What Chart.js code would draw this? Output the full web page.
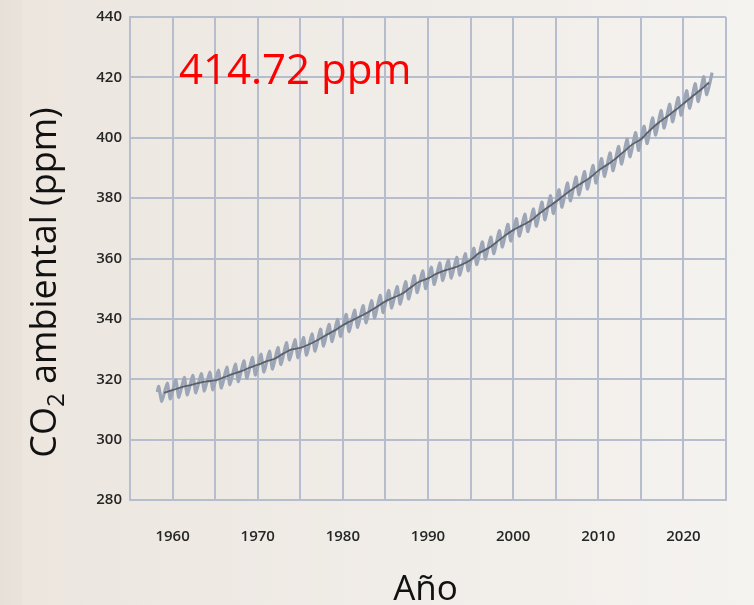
<!DOCTYPE html>
<html>
<head>
<meta charset="utf-8">
<script src="https://cdn.jsdelivr.net/npm/chart.js@4/dist/chart.umd.min.js"></script>
<style>
  html, body { margin: 0; padding: 0; width: 754px; height: 605px; overflow: hidden; }
  body {
    background: linear-gradient(to right, #e8e0d8 0px, #eae3db 22px, #ece6df 23px, #f0ece7 50%, #f5f3f0 100%);
  }
  canvas { display: block; }
</style>
</head>
<body>
<canvas id="co2" width="754" height="605"></canvas>
<script>
// Mauna Loa CO2 record: yearly seasonal maximum (May) and minimum (late September),
// plus the de-seasonalised trend sampled at the start of each year.
const startMarch1958 = 315.7;

const seasonYears = [
  1958, 1959, 1960, 1961, 1962, 1963, 1964, 1965, 1966, 1967,
  1968, 1969, 1970, 1971, 1972, 1973, 1974, 1975, 1976, 1977,
  1978, 1979, 1980, 1981, 1982, 1983, 1984, 1985, 1986, 1987,
  1988, 1989, 1990, 1991, 1992, 1993, 1994, 1995, 1996, 1997,
  1998, 1999, 2000, 2001, 2002, 2003, 2004, 2005, 2006, 2007,
  2008, 2009, 2010, 2011, 2012, 2013, 2014, 2015, 2016, 2017,
  2018, 2019, 2020, 2021, 2022, 2023
];

const mayPeak = [
  317.6, 318.7, 319.8, 320.6, 321.3, 321.9, 322.4, 323.0, 324.0, 325.0,
  326.1, 327.2, 328.3, 329.3, 330.5, 332.1, 333.1, 333.8, 335.0, 336.6,
  338.2, 339.8, 341.5, 342.9, 344.4, 346.0, 347.8, 349.4, 350.7, 352.3,
  354.3, 355.9, 357.1, 358.5, 359.5, 360.4, 361.6, 363.4, 365.5, 367.1,
  369.2, 371.3, 373.2, 374.7, 376.4, 378.7, 380.8, 382.8, 385.0, 387.0,
  388.8, 390.8, 393.1, 395.0, 397.1, 399.5, 401.7, 403.8, 406.6, 409.0,
  411.1, 413.3, 415.6, 417.9, 420.2, 421.6
];

const sepTrough = [
  312.7, 313.5, 314.0, 314.8, 315.5, 316.1, 316.5, 317.1, 318.2, 319.2,
  320.3, 321.4, 322.4, 323.4, 324.9, 326.4, 327.1, 328.0, 329.3, 331.0,
  332.5, 334.2, 335.8, 337.2, 338.7, 340.3, 342.1, 343.6, 344.9, 346.6,
  348.7, 350.0, 351.4, 352.7, 353.5, 354.5, 355.9, 358.0, 359.8, 361.6,
  363.8, 365.8, 367.4, 368.9, 370.7, 372.8, 374.9, 377.0, 379.1, 381.1,
  383.0, 385.0, 387.2, 389.1, 391.3, 393.7, 395.8, 398.1, 400.9, 403.2,
  405.3, 407.5, 409.8, 412.0, 414.3
];

const trendYears = [
  1959, 1960, 1961, 1962, 1963, 1964, 1965, 1966, 1967, 1968,
  1969, 1970, 1971, 1972, 1973, 1974, 1975, 1976, 1977, 1978,
  1979, 1980, 1981, 1982, 1983, 1984, 1985, 1986, 1987, 1988,
  1989, 1990, 1991, 1992, 1993, 1994, 1995, 1996, 1997, 1998,
  1999, 2000, 2001, 2002, 2003, 2004, 2005, 2006, 2007, 2008,
  2009, 2010, 2011, 2012, 2013, 2014, 2015, 2016, 2017, 2018,
  2019, 2020, 2021, 2022, 2023
];

const trendPpm = [
  315.5, 316.4, 317.3, 318.0, 318.7, 319.3, 319.6, 320.6, 321.7, 322.6,
  323.8, 324.8, 325.9, 326.8, 328.5, 329.9, 330.4, 331.5, 332.9, 334.6,
  336.1, 337.9, 339.4, 340.8, 342.3, 344.0, 345.8, 347.1, 348.4, 350.5,
  352.4, 353.4, 355.0, 356.1, 356.9, 358.0, 359.5, 361.8, 363.3, 365.3,
  367.5, 369.4, 370.9, 372.4, 374.7, 376.8, 378.8, 381.0, 383.0, 384.9,
  386.7, 389.1, 391.0, 393.0, 395.4, 397.8, 399.5, 402.3, 404.8, 406.9,
  409.0, 411.3, 413.6, 415.8, 418.3
];

const yTicks = [280, 300, 320, 340, 360, 380, 400, 420, 440];
const xLabelYears = [1960, 1970, 1980, 1990, 2000, 2010, 2020];

const currentReading = '414.72 ppm';
const yTitleMain = 'CO';
const yTitleSub = '2';
const yTitleRest = ' ambiental (ppm)';
const xTitle = 'Año';

// Month positions inside a year (decimal years)
const MAY = 0.37, LATE_SEP = 0.74, MARCH = 0.2;

const seasonal = [{ x: 1958 + MARCH, y: startMarch1958 }];
seasonYears.forEach((yr, i) => {
  seasonal.push({ x: yr + MAY, y: mayPeak[i] });
  if (i < sepTrough.length) seasonal.push({ x: yr + LATE_SEP, y: sepTrough[i] });
});
const trend = trendYears.map((yr, i) => ({ x: yr, y: trendPpm[i] }));

const FONT = "'Open Sans', 'Noto Sans', sans-serif";
const GRID = '#b6bece';

const titlesPlugin = {
  id: 'titles',
  afterDraw(chart) {
    const { ctx, chartArea } = chart;
    ctx.save();
    // headline reading
    ctx.fillStyle = '#ff0000';
    ctx.font = `42px ${FONT}`;
    ctx.textAlign = 'left';
    ctx.textBaseline = 'alphabetic';
    ctx.fillText(currentReading, chartArea.left + 49, chartArea.top + 67);

    // x axis title
    ctx.fillStyle = '#111111';
    ctx.font = `35px ${FONT}`;
    ctx.textAlign = 'center';
    ctx.fillText(xTitle, 425.5, 600);

    // y axis title with subscript
    ctx.translate(56, 282.5);
    ctx.rotate(-Math.PI / 2);
    ctx.textAlign = 'left';
    const big = `36px ${FONT}`, small = `24px ${FONT}`;
    ctx.font = big;
    const w1 = ctx.measureText(yTitleMain).width;
    const w3 = ctx.measureText(yTitleRest).width;
    ctx.font = small;
    const w2 = ctx.measureText(yTitleSub).width;
    let x0 = -(w1 + w2 + w3) / 2;
    ctx.font = big;
    ctx.fillText(yTitleMain, x0, 0);
    ctx.font = small;
    ctx.fillText(yTitleSub, x0 + w1, 8);
    ctx.font = big;
    ctx.fillText(yTitleRest, x0 + w1 + w2, 0);
    ctx.restore();
  }
};

new Chart(document.getElementById('co2'), {
  type: 'line',
  data: {
    datasets: [
      {
        data: seasonal,
        borderColor: '#9ca6b7',
        borderWidth: 3.2,
        pointRadius: 0,
        tension: 0.2,
        order: 2
      },
      {
        data: trend,
        borderColor: '#5b5f69',
        borderWidth: 1.8,
        pointRadius: 0,
        tension: 0.3,
        order: 1
      }
    ]
  },
  options: {
    responsive: false,
    animation: false,
    devicePixelRatio: 1,
    layout: { padding: { top: 17, right: 7, left: 0, bottom: 0 } },
    plugins: { legend: { display: false }, tooltip: { enabled: false } },
    scales: {
      x: {
        type: 'linear',
        min: 1955,
        max: 2025,
        ticks: {
          stepSize: 5,
          padding: 28,
          maxRotation: 0,
          autoSkip: false,
          color: '#262626',
          font: { family: FONT, size: 15, weight: '600' },
          callback: v => (xLabelYears.includes(v) ? String(v) : '')
        },
        grid: { color: GRID, lineWidth: 2, drawTicks: false },
        border: { color: GRID, width: 2 },
        afterFit(scale) { scale.height = 105; }
      },
      y: {
        min: yTicks[0],
        max: yTicks[yTicks.length - 1],
        afterBuildTicks(scale) { scale.ticks = yTicks.map(v => ({ value: v })); },
        ticks: {
          padding: 8,
          color: '#262626',
          font: { family: FONT, size: 15, weight: '600' },
          callback: v => String(v)
        },
        grid: { color: GRID, lineWidth: 2, drawTicks: false },
        border: { color: GRID, width: 2 },
        afterFit(scale) { scale.width = 130; }
      }
    }
  },
  plugins: [titlesPlugin]
});
</script>
</body>
</html>
